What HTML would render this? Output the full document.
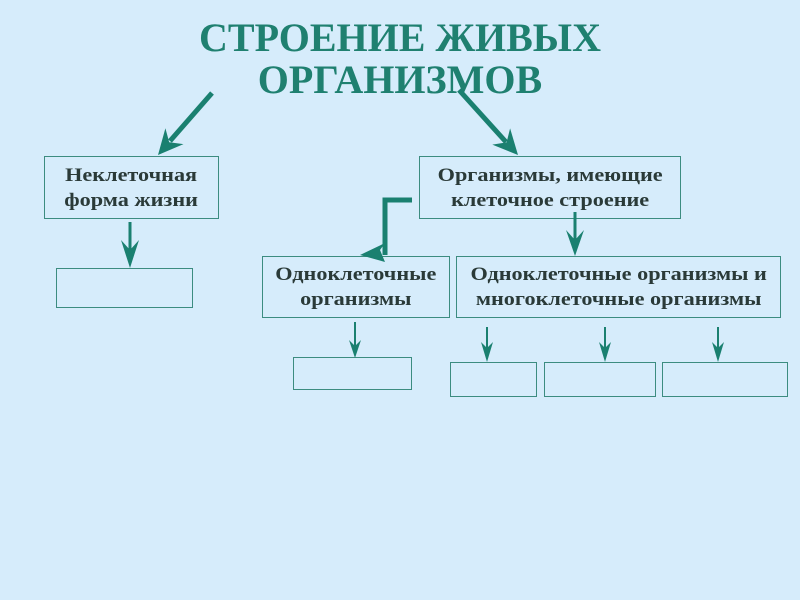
<!DOCTYPE html>
<html><head><meta charset="utf-8"><style>
body{margin:0;width:800px;height:600px;background:#d6ecfb;position:relative;overflow:hidden;font-family:"Liberation Serif",serif}
.t{position:absolute;left:0;width:800px;text-align:center;color:#1f8070;font-weight:bold;font-size:40px;line-height:44px}
.b{position:absolute;border:1.5px solid #3c8c80;box-sizing:border-box;color:#2a3a38;font-weight:bold;font-size:19px;text-align:center;line-height:25px;display:flex;align-items:center;justify-content:center}
.b span{display:inline-block;transform:scaleX(1.17);white-space:nowrap}
</style></head><body>
<div class="t" style="top:16px">СТРОЕНИЕ ЖИВЫХ</div>
<div class="t" style="top:58px">ОРГАНИЗМОВ</div>
<div class="b" style="left:44px;top:156px;width:175px;height:63px"><span>Неклеточная<br>форма жизни</span></div>
<div class="b" style="left:419px;top:156px;width:262px;height:63px"><span>Организмы, имеющие<br>клеточное строение</span></div>
<div class="b" style="left:262px;top:256px;width:188px;height:62px"><span>Одноклеточные<br>организмы</span></div>
<div class="b" style="left:456px;top:256px;width:325px;height:62px"><span>Одноклеточные организмы и<br>многоклеточные организмы</span></div>
<div class="b" style="left:56px;top:268px;width:137px;height:40px"></div>
<div class="b" style="left:293px;top:357px;width:119px;height:33px"></div>
<div class="b" style="left:450px;top:362px;width:87px;height:35px"></div>
<div class="b" style="left:544px;top:362px;width:112px;height:35px"></div>
<div class="b" style="left:662px;top:362px;width:126px;height:35px"></div>
<svg width="800" height="600" style="position:absolute;left:0;top:0" fill="#1a8070" stroke="#1a8070">
<g stroke-width="5" fill="none">
<line x1="212" y1="93" x2="170" y2="141"/>
<line x1="459" y1="90" x2="506" y2="142"/>
<polyline points="412,200 385,200 385,255"/>
</g>
<g stroke-width="3">
<line x1="130" y1="222" x2="130" y2="255"/>
<line x1="575" y1="212" x2="575" y2="245"/>
</g>
<g stroke-width="2">
<line x1="355" y1="322" x2="355" y2="350"/>
<line x1="487" y1="327" x2="487" y2="355"/>
<line x1="605" y1="327" x2="605" y2="355"/>
<line x1="718" y1="327" x2="718" y2="355"/>
</g>
<g stroke="none">
<polygon points="158,155 183.5,144.1 169.2,142.2 165.4,128.3"/>
<polygon points="518,155 492.3,144.6 506.6,142.4 510.1,128.4"/>
<polygon points="130,268 121,240 130,250 139,240"/>
<polygon points="575,256 566,230 575,240 584,230"/>
<polygon points="360,255 385,243 380,250 385,262"/>
<polygon points="355,358 349,340 355,346 361,340"/>
<polygon points="487,362 481,342 487,348 493,342"/>
<polygon points="605,362 599,342 605,348 611,342"/>
<polygon points="718,362 712,342 718,348 724,342"/>
</g>
</svg>
</body></html>
